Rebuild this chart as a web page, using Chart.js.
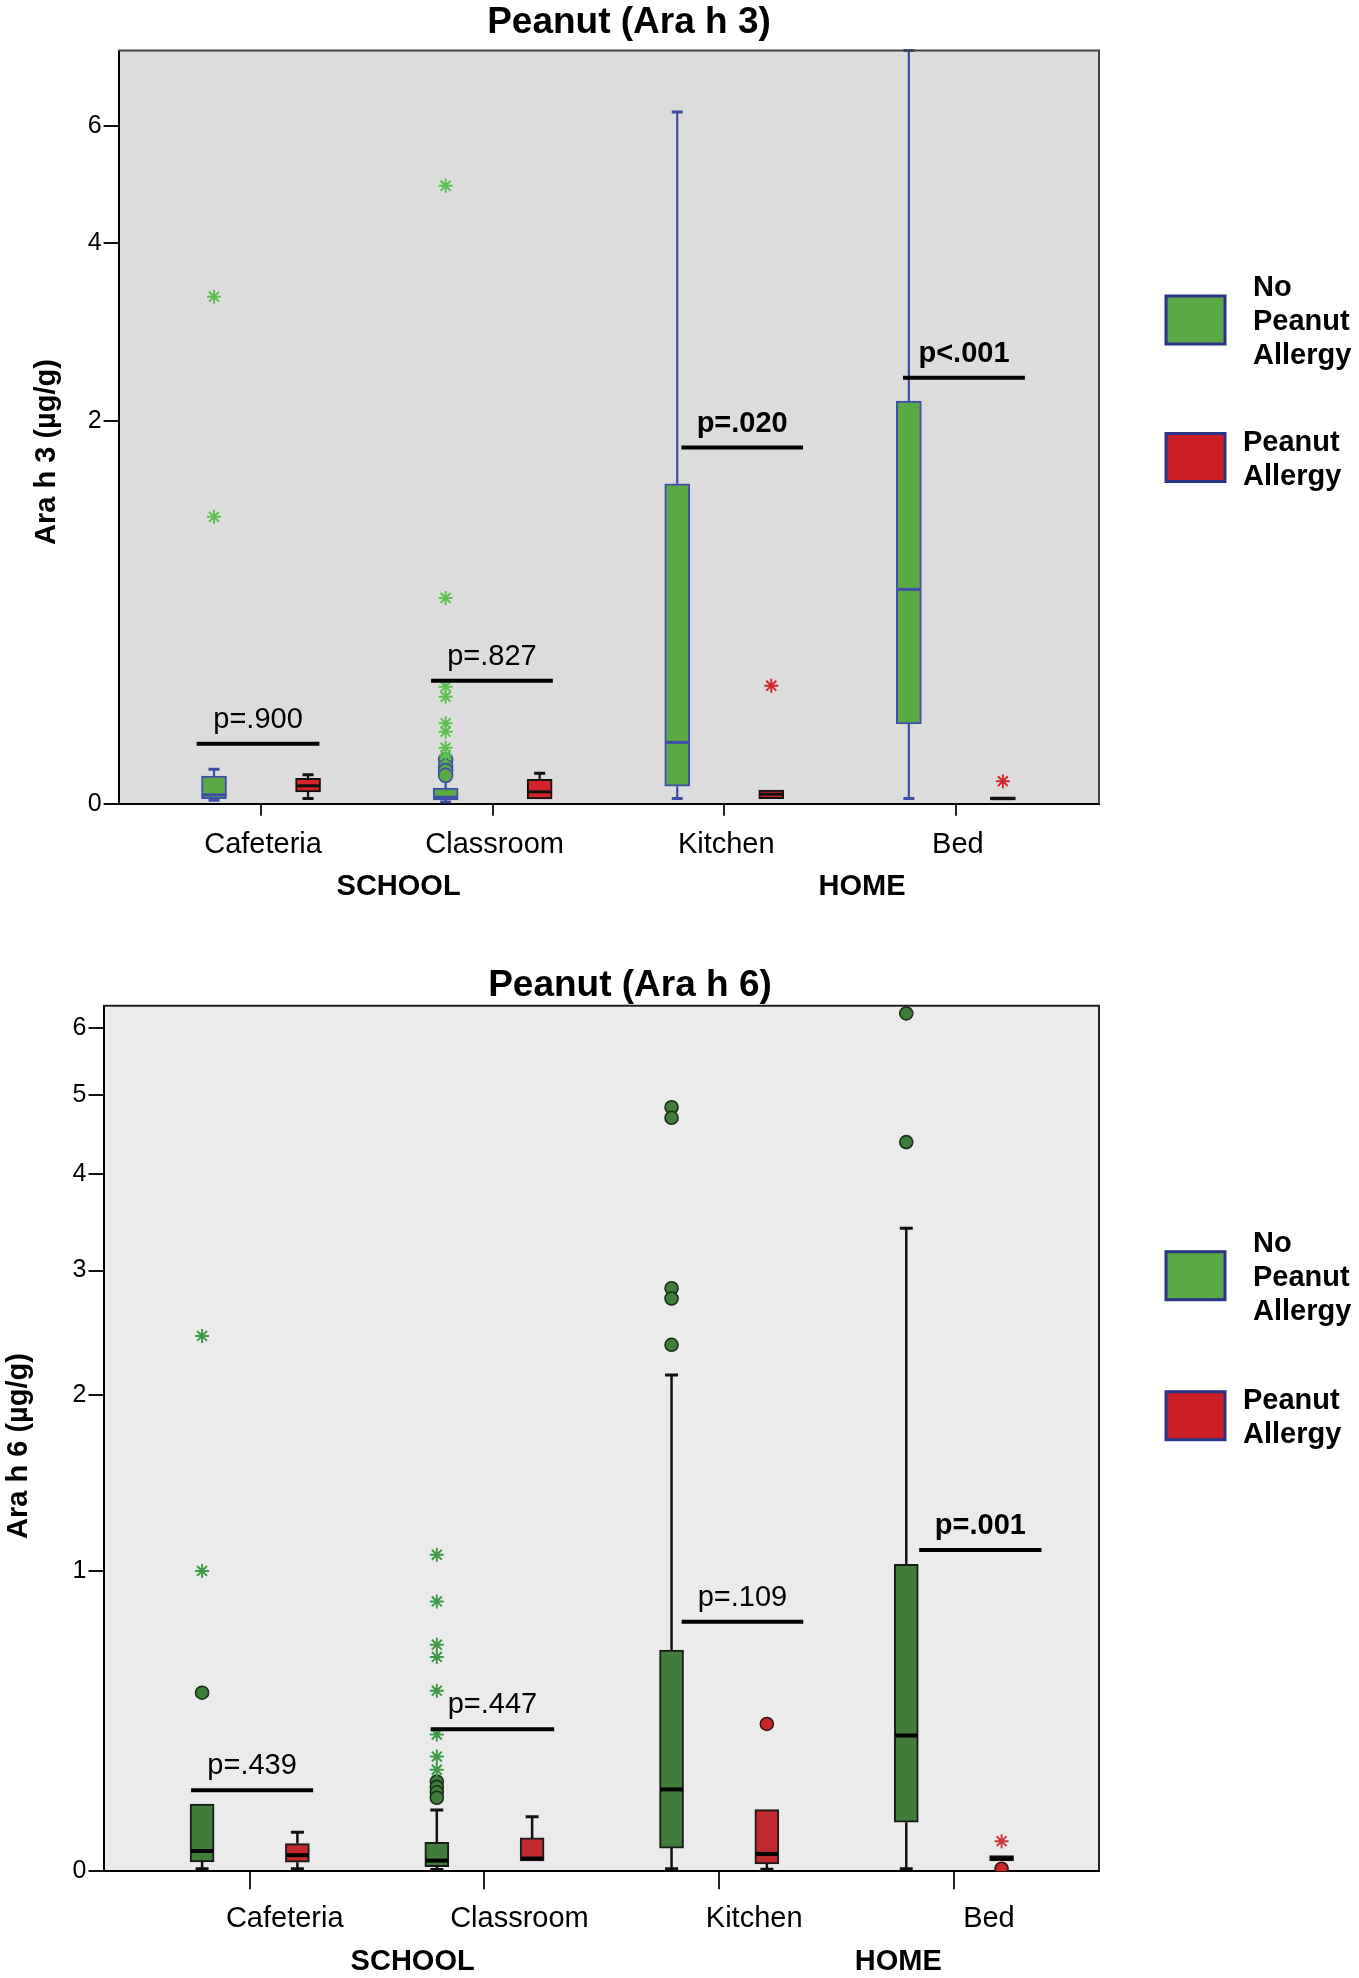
<!DOCTYPE html>
<html>
<head>
<meta charset="utf-8">
<script src="https://cdn.jsdelivr.net/npm/chart.js@4.4.0/dist/chart.umd.min.js"></script>
<style>
html, body { margin: 0; padding: 0; background: #ffffff; }
#wrap { position: relative; width: 1359px; height: 1978px; overflow: hidden; }
#w1 { position: absolute; left: 0; top: 0; width: 1359px; height: 950px; }
#w2 { position: absolute; left: 0; top: 940px; width: 1359px; height: 1038px; }
</style>
</head>
<body>
<div id="wrap">
  <div id="w1"><canvas id="c1"></canvas></div>
  <div id="w2"><canvas id="c2"></canvas></div>
</div>
<script>
// ---------------- DATA ----------------
const categories = ['Cafeteria', 'Classroom', 'Kitchen', 'Bed'];
const groupNames = ['SCHOOL', 'HOME'];
const seriesNames = ['No Peanut Allergy', 'Peanut Allergy'];

// Ara h 3 (µg/g)
const h3Ticks = [0, 2, 4, 6];
const h3NoMin = [0.010, 0.005, 0.015, 0.015];
const h3NoQ1  = [0.015, 0.011, 0.052, 0.258];
const h3NoMed = [0.026, 0.019, 0.193, 0.851];
const h3NoQ3  = [0.083, 0.046, 1.507, 2.180];
const h3NoMax = [0.104, 0.075, 6.290, 7.700];
const h3NoStars   = [[3.29, 1.28], [4.90, 0.806, 0.40, 0.36, 0.26, 0.23, 0.175, 0.15], [], []];
const h3NoCircles = [[], [0.135, 0.115, 0.100, 0.085], [], []];
const h3PaMin = [0.015, 0.014, 0.015, 0.011];
const h3PaQ1  = [0.035, 0.014, 0.015, 0.011];
const h3PaMed = [0.053, 0.035, 0.028, 0.015];
const h3PaQ3  = [0.076, 0.073, 0.040, 0.020];
const h3PaMax = [0.087, 0.092, 0.040, 0.020];
const h3PaStars   = [[], [], [0.404], [0.067]];
const h3PaCircles = [[], [], [], []];
const h3PValues = ['p=.900', 'p=.827', 'p=.020', 'p<.001'];

// Ara h 6 (µg/g)
const h6Ticks = [0, 1, 2, 3, 4, 5, 6];
const h6NoMin = [0.006, 0.004, 0.006, 0.006];
const h6NoQ1  = [0.022, 0.011, 0.055, 0.120];
const h6NoMed = [0.048, 0.025, 0.208, 0.368];
const h6NoQ3  = [0.168, 0.069, 0.666, 1.031];
const h6NoMax = [0.168, 0.152, 2.144, 3.410];
const h6NoStars   = [[2.44, 1.00], [1.076, 0.864, 0.687, 0.640, 0.517, 0.371, 0.303, 0.264], [], []];
const h6NoCircles = [[0.51], [0.23, 0.215, 0.20, 0.185], [4.83, 4.69, 2.84, 2.75, 2.37], [6.24, 4.38]];
const h6PaMin = [0.006, 0.024, 0.005, 0.024];
const h6PaQ1  = [0.021, 0.024, 0.017, 0.024];
const h6PaMed = [0.038, 0.030, 0.041, 0.030];
const h6PaQ3  = [0.066, 0.080, 0.153, 0.037];
const h6PaMax = [0.094, 0.134, 0.153, 0.037];
const h6PaStars   = [[], [], [], [0.072]];
const h6PaCircles = [[], [], [0.405], [0.006]];
const h6PValues = ['p=.439', 'p=.447', 'p=.109', 'p=.001'];

// ---------------- DRAWING ----------------
const FONT = "'Liberation Sans', Arial, Helvetica, sans-serif";
const L = Math.log1p;

function makeBoxChart(cfg) {
  const off = cfg.groupOffset;
  const datasets = [];
  cfg.series.forEach(s => {
    datasets.push({
      type: 'bar', label: s.name,
      data: categories.map((c, i) => ({ x: i + 1 + s.sign * off, y: [L(s.q1[i]), L(s.q3[i])] })),
      backgroundColor: s.fill, borderColor: s.border, borderWidth: 2, borderSkipped: false,
      barThickness: cfg.boxWidth, grouped: false, order: 3
    });
  });
  cfg.series.forEach(s => {
    datasets.push({
      type: 'scatter', label: s.name + ' extremes',
      data: s.stars.flatMap((arr, i) => arr.map(v => ({ x: i + 1 + s.sign * off, y: L(v) }))),
      pointStyle: 'star', pointRadius: cfg.starRadius, pointHoverRadius: cfg.starRadius,
      pointBorderColor: s.starColor, pointBackgroundColor: s.starColor, pointBorderWidth: 2, order: 1
    });
    datasets.push({
      type: 'scatter', label: s.name + ' outliers',
      data: s.circles.flatMap((arr, i) => arr.map(v => ({ x: i + 1 + s.sign * off, y: L(v) }))),
      pointStyle: 'circle', pointRadius: cfg.circleRadius, pointHoverRadius: cfg.circleRadius,
      pointBorderColor: s.circleBorder, pointBackgroundColor: s.circleFill, pointBorderWidth: 1.6, order: 1
    });
  });

  const plugin = {
    id: 'boxExtras',
    beforeDraw(chart) {
      const { ctx, chartArea: a } = chart;
      ctx.save();
      ctx.fillStyle = cfg.plotBg;
      ctx.fillRect(a.left, a.top, a.right - a.left, a.bottom - a.top);
      ctx.restore();
    },
    beforeDatasetsDraw(chart) {
      const { ctx, chartArea: a, scales: { x, y } } = chart;
      ctx.save();
      ctx.beginPath();
      ctx.rect(a.left, a.top - 2, a.right - a.left, a.bottom - a.top + 2);
      ctx.clip();
      cfg.series.forEach(s => {
        ctx.strokeStyle = s.whisker;
        categories.forEach((c, i) => {
          const px = x.getPixelForValue(i + 1 + s.sign * off);
          const yq1 = y.getPixelForValue(L(s.q1[i]));
          const yq3 = y.getPixelForValue(L(s.q3[i]));
          const ymin = y.getPixelForValue(L(s.min[i]));
          const ymax = y.getPixelForValue(L(s.max[i]));
          const hw = cfg.capWidth / 2;
          if (s.max[i] > s.q3[i]) {
            ctx.lineWidth = cfg.whiskerWidth;
            ctx.beginPath(); ctx.moveTo(px, yq3); ctx.lineTo(px, ymax); ctx.stroke();
            ctx.lineWidth = cfg.capLine;
            ctx.beginPath(); ctx.moveTo(px - hw, ymax); ctx.lineTo(px + hw, ymax); ctx.stroke();
          }
          if (s.min[i] < s.q1[i]) {
            ctx.lineWidth = cfg.whiskerWidth;
            ctx.beginPath(); ctx.moveTo(px, yq1); ctx.lineTo(px, ymin); ctx.stroke();
            ctx.lineWidth = cfg.capLine;
            ctx.beginPath(); ctx.moveTo(px - hw, ymin); ctx.lineTo(px + hw, ymin); ctx.stroke();
          }
        });
      });
      ctx.restore();
    },
    afterDatasetsDraw(chart) {
      const { ctx, scales: { x, y } } = chart;
      ctx.save();
      // medians
      cfg.series.forEach(s => {
        ctx.strokeStyle = s.median;
        ctx.lineWidth = cfg.medianWidth;
        categories.forEach((c, i) => {
          const px = x.getPixelForValue(i + 1 + s.sign * off);
          const py = y.getPixelForValue(L(s.med[i]));
          ctx.beginPath();
          ctx.moveTo(px - cfg.boxWidth / 2 + 1, py);
          ctx.lineTo(px + cfg.boxWidth / 2 - 1, py);
          ctx.stroke();
        });
      });
      // p-value brackets
      cfg.pValues.forEach((txt, i) => {
        const xl = x.getPixelForValue(i + 1 + cfg.pSpan[i][0]);
        const xr = x.getPixelForValue(i + 1 + cfg.pSpan[i][1]);
        const py = y.getPixelForValue(L(cfg.pLevel[i]));
        ctx.strokeStyle = '#000';
        ctx.lineWidth = 4;
        ctx.beginPath(); ctx.moveTo(xl, py); ctx.lineTo(xr, py); ctx.stroke();
        ctx.fillStyle = '#000';
        ctx.font = (cfg.pBold[i] ? 'bold ' : '') + '29px ' + FONT;
        ctx.textAlign = 'center';
        ctx.textBaseline = 'alphabetic';
        ctx.fillText(txt, (xl + xr) / 2, py - 16);
      });
      ctx.restore();
    },
    afterDraw(chart) {
      const { ctx, chartArea: a, scales: { x } } = chart;
      ctx.save();
      // frame
      ctx.strokeStyle = cfg.frameColor;
      ctx.lineWidth = 2;
      ctx.beginPath();
      ctx.moveTo(a.left, a.top); ctx.lineTo(a.right, a.top); ctx.lineTo(a.right, a.bottom);
      ctx.stroke();
      // title
      ctx.fillStyle = '#000';
      ctx.font = 'bold 37px ' + FONT;
      ctx.textAlign = 'center';
      ctx.textBaseline = 'middle';
      ctx.fillText(cfg.title, cfg.titleX, cfg.titleY);
      // y title
      ctx.save();
      ctx.translate(cfg.yTitleX, cfg.yTitleY);
      ctx.rotate(-Math.PI / 2);
      ctx.font = 'bold 29px ' + FONT;
      ctx.fillText(cfg.yTitle, 0, 0);
      ctx.restore();
      // group labels
      ctx.font = 'bold 29px ' + FONT;
      groupNames.forEach((g, i) => {
        ctx.fillText(g, x.getPixelForValue(cfg.groupPos[i]), a.bottom + cfg.groupDy);
      });
      // legend
      cfg.series.forEach((s, si) => {
        const bx = a.right + 67;
        const by = a.top + cfg.legendTop[si];
        ctx.fillStyle = s.legendFill;
        ctx.fillRect(bx, by, 59, 48);
        ctx.strokeStyle = '#2b3488';
        ctx.lineWidth = 3;
        ctx.strokeRect(bx, by, 59, 48);
        const lines = s.name.split(' ');
        ctx.fillStyle = '#000';
        ctx.font = 'bold 29px ' + FONT;
        ctx.textAlign = 'left';
        ctx.textBaseline = 'middle';
        const cy = by + 24;
        const lh = 34;
        lines.forEach((ln, k) => {
          ctx.fillText(ln, a.right + cfg.legendTextDx[si], cy + (k - (lines.length - 1) / 2) * lh + 2);
        });
      });
      ctx.restore();
    }
  };

  return new Chart(document.getElementById(cfg.canvas), {
    type: 'bar',
    data: { datasets },
    options: {
      responsive: true, maintainAspectRatio: false, animation: false, devicePixelRatio: 1,
      layout: { padding: { left: 0, top: cfg.padTop, right: 260, bottom: 0 } },
      plugins: { legend: { display: false }, tooltip: { enabled: false }, title: { display: false } },
      scales: {
        x: {
          type: 'linear', min: cfg.xMin, max: cfg.xMax, offset: false,
          afterBuildTicks: sc => { sc.ticks = categories.map((c, i) => ({ value: i + 1 })); },
          afterFit: sc => { sc.height = cfg.xAxisH; },
          ticks: {
            autoSkip: false, maxRotation: 0, padding: 12, labelOffset: cfg.labelOffset,
            color: '#000', font: { size: 29, family: FONT },
            callback: v => categories[Math.round(v) - 1]
          },
          grid: { display: true, drawOnChartArea: false, drawTicks: true, tickLength: cfg.xTickLen, color: '#222', lineWidth: 2, offset: false },
          border: { display: true, color: '#000', width: 2 }
        },
        y: {
          type: 'linear', min: 0, max: L(cfg.yMax),
          afterBuildTicks: sc => { sc.ticks = cfg.yTicks.map(v => ({ value: L(v) })); },
          afterFit: sc => { sc.width = cfg.yAxisW; },
          ticks: {
            autoSkip: false, padding: 2, color: '#000', font: { size: 25, family: FONT },
            callback: v => String(Math.round(Math.expm1(v)))
          },
          grid: { display: true, drawOnChartArea: false, drawTicks: true, tickLength: 15, color: '#111', lineWidth: 2 },
          border: { display: true, color: '#000', width: 2 }
        }
      }
    },
    plugins: [plugin]
  });
}

// Top chart: Ara h 3
makeBoxChart({
  canvas: 'c1', title: 'Peanut (Ara h 3)', yTitle: 'Ara h 3 (µg/g)',
  titleX: 629, titleY: 23, yTitleX: 47, yTitleY: 452,
  padTop: 50.5, yAxisW: 118.6, xAxisH: 146.2, xMin: 0.385, xMax: 4.618,
  yMax: 7.7, yTicks: h3Ticks, plotBg: '#dcdcdc', frameColor: '#444',
  groupOffset: 0.203, boxWidth: 25, capWidth: 11, capLine: 3, whiskerWidth: 2.2, medianWidth: 3,
  starRadius: 7, circleRadius: 7, xTickLen: 12, labelOffset: 2,
  groupPos: [1.594, 3.595], groupDy: 83,
  legendTop: [245.5, 383], legendTextDx: [154, 144],
  pValues: h3PValues, pBold: [false, false, true, true],
  pLevel: [0.188, 0.424, 1.782, 2.40],
  pSpan: [[-0.278, 0.252], [-0.266, 0.26], [-0.185, 0.34], [-0.228, 0.298]],
  series: [
    { name: seriesNames[0], sign: -1, min: h3NoMin, q1: h3NoQ1, med: h3NoMed, q3: h3NoQ3, max: h3NoMax,
      stars: h3NoStars, circles: h3NoCircles, fill: '#5ba944', border: '#4050a8', whisker: '#3e4ca6', median: '#3e4ca6',
      starColor: '#5fc052', circleFill: '#5ba944', circleBorder: '#4050a8', legendFill: '#5ba846' },
    { name: seriesNames[1], sign: 1, min: h3PaMin, q1: h3PaQ1, med: h3PaMed, q3: h3PaQ3, max: h3PaMax,
      stars: h3PaStars, circles: h3PaCircles, fill: '#d3222a', border: '#111', whisker: '#111', median: '#111',
      starColor: '#d4262d', circleFill: '#d3222a', circleBorder: '#111', legendFill: '#cc1f24' }
  ]
});

// Bottom chart: Ara h 6
makeBoxChart({
  canvas: 'c2', title: 'Peanut (Ara h 6)', yTitle: 'Ara h 6 (µg/g)',
  titleX: 630, titleY: 45.5, yTitleX: 19, yTitleY: 506,
  padTop: 65.7, yAxisW: 103.5, xAxisH: 106.7, xMin: 0.377, xMax: 4.618,
  yMax: 6.37, yTicks: h6Ticks, plotBg: '#ebebeb', frameColor: '#222',
  groupOffset: 0.203, boxWidth: 24, capWidth: 13, capLine: 3, whiskerWidth: 2.5, medianWidth: 4,
  starRadius: 7, circleRadius: 6.5, xTickLen: 18, labelOffset: 35,
  groupPos: [1.694, 3.763], groupDy: 91,
  legendTop: [246, 386], legendTextDx: [154, 144],
  pValues: h6PValues, pBold: [false, false, false, true],
  pLevel: [0.206, 0.388, 0.779, 1.099],
  pSpan: [[-0.25, 0.27], [-0.229, 0.297], [-0.16, 0.358], [-0.148, 0.373]],
  series: [
    { name: seriesNames[0], sign: -1, min: h6NoMin, q1: h6NoQ1, med: h6NoMed, q3: h6NoQ3, max: h6NoMax,
      stars: h6NoStars, circles: h6NoCircles, fill: '#417c3a', border: '#1a1a1a', whisker: '#111', median: '#000',
      starColor: '#3f9a48', circleFill: '#3f7d3a', circleBorder: '#1c2e1a', legendFill: '#5ba846' },
    { name: seriesNames[1], sign: 1, min: h6PaMin, q1: h6PaQ1, med: h6PaMed, q3: h6PaQ3, max: h6PaMax,
      stars: h6PaStars, circles: h6PaCircles, fill: '#c1292f', border: '#1a1a1a', whisker: '#111', median: '#000',
      starColor: '#d0393f', circleFill: '#c8262c', circleBorder: '#3a1010', legendFill: '#cc1f24' }
  ]
});
</script>
</body>
</html>
